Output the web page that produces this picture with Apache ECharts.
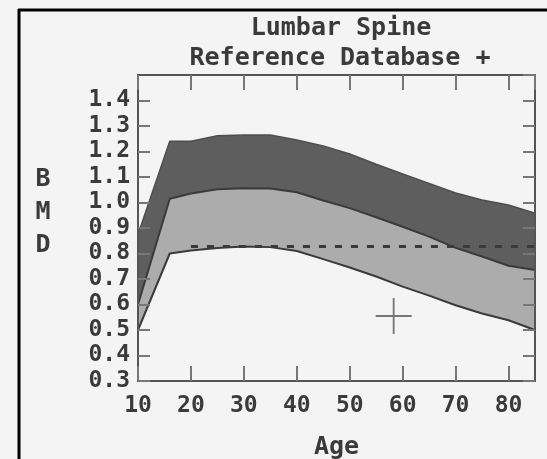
<!DOCTYPE html>
<html>
<head>
<meta charset="utf-8">
<script src="https://cdn.jsdelivr.net/npm/echarts@6/dist/echarts.min.js"></script>
<style>
html,body{margin:0;padding:0;background:#f4f4f4;}
#chart{width:547px;height:459px;}
</style>
</head>
<body>
<div id="chart"></div>
<script>
// Data
const ages   = [10, 16, 20, 25, 30, 35, 40, 45, 50, 55, 60, 65, 70, 75, 80, 85];
const upper  = [0.875, 1.24, 1.24, 1.262, 1.265, 1.265, 1.245, 1.222, 1.19, 1.15, 1.112, 1.075, 1.037, 1.01, 0.99, 0.958];
const middle = [0.60, 1.015, 1.035, 1.052, 1.056, 1.055, 1.04, 1.008, 0.978, 0.942, 0.905, 0.866, 0.822, 0.788, 0.752, 0.735];
const lower  = [0.50, 0.80, 0.812, 0.822, 0.827, 0.825, 0.81, 0.778, 0.745, 0.71, 0.67, 0.635, 0.597, 0.565, 0.538, 0.50];
const refAges = [20, 85];
const refValue = 0.827;
const patient = [58.3, 0.555];
const xTicks = {min: 10, max: 85, interval: 10};
const yTicks = {min: 0.3, max: 1.5, interval: 0.1};

const FONT = '"DejaVu Sans Mono", "Liberation Mono", monospace';
const TXT = '#3a3a3a';
const BG = '#f4f4f4';

const chart = echarts.init(document.getElementById('chart'), null, {renderer: 'canvas'});

const axisLine = {show: true, lineStyle: {color: '#555', width: 2}};
const xTick = {show: true, inside: true, length: 15, lineStyle: {color: '#777', width: 2}};
const yTick = {show: true, inside: true, length: 12, lineStyle: {color: '#777', width: 2}};
const labelStyle = {fontFamily: FONT, fontSize: 23, fontWeight: 'bold', color: TXT};

const option = {
  animation: false,
  backgroundColor: BG,
  grid: {left: 138, right: 12, top: 75, bottom: 78, containLabel: false, outerBoundsMode: 'none'},
  xAxis: [
    {
      type: 'value', position: 'bottom', min: xTicks.min, max: xTicks.max, interval: xTicks.interval,
      axisLine: axisLine, axisTick: xTick, splitLine: {show: false},
      axisLabel: Object.assign({margin: 14, showMaxLabel: false}, labelStyle),
      name: 'Age', nameLocation: 'middle', nameGap: 54,
      nameTextStyle: {fontFamily: FONT, fontSize: 25, fontWeight: 'bold', color: TXT},
      z: 10
    },
    {
      type: 'value', position: 'top', min: xTicks.min, max: xTicks.max, interval: xTicks.interval,
      axisLine: axisLine, axisTick: xTick, splitLine: {show: false},
      axisLabel: {show: false}, z: 10
    }
  ],
  yAxis: [
    {
      type: 'value', position: 'left', min: yTicks.min, max: yTicks.max, interval: yTicks.interval,
      axisLine: axisLine, axisTick: yTick, splitLine: {show: false},
      axisLabel: Object.assign({margin: 8, showMaxLabel: false, formatter: v => v.toFixed(1)}, labelStyle),
      z: 10
    },
    {
      type: 'value', position: 'right', min: yTicks.min, max: yTicks.max, interval: yTicks.interval,
      axisLine: axisLine, axisTick: yTick, splitLine: {show: false},
      axisLabel: {show: false}, z: 10
    }
  ],
  series: [
    {
      name: 'upper', type: 'line', symbol: 'none', z: 2,
      data: ages.map((a, i) => [a, upper[i]]),
      lineStyle: {color: '#4e4e4e', width: 1.5},
      areaStyle: {color: '#5e5e5e', opacity: 1, origin: 'start'}
    },
    {
      name: 'middle', type: 'line', symbol: 'none', z: 3,
      data: ages.map((a, i) => [a, middle[i]]),
      lineStyle: {color: '#3a3a3a', width: 2},
      areaStyle: {color: '#acacac', opacity: 1, origin: 'start'}
    },
    {
      name: 'lower', type: 'line', symbol: 'none', z: 4,
      data: ages.map((a, i) => [a, lower[i]]),
      lineStyle: {color: '#3a3a3a', width: 2},
      areaStyle: {color: BG, opacity: 1, origin: 'start'}
    },
    {
      name: 'reference', type: 'line', symbol: 'none', z: 5,
      data: refAges.map(a => [a, refValue]),
      lineStyle: {color: '#3a3a3a', width: 3, type: [7, 9]}
    },
    {
      name: 'patient', type: 'scatter', z: 6,
      symbol: 'path://M0,9.5H20V10.5H0Z M9.5,0H10.5V20H9.5Z',
      symbolSize: 36,
      itemStyle: {color: '#555'},
      data: [patient]
    }
  ],
  graphic: [
    {type: 'line', shape: {x1: 19, y1: 9, x2: 19, y2: 459}, style: {stroke: '#000', lineWidth: 3}, z: 100},
    {type: 'line', shape: {x1: 18, y1: 10, x2: 547, y2: 10}, style: {stroke: '#000', lineWidth: 3}, z: 100},
    {type: 'text', x: 341, y: 28, style: {text: 'Lumbar Spine', fontFamily: FONT, fontSize: 25, fontWeight: 'bold', fill: TXT, align: 'center', verticalAlign: 'middle'}},
    {type: 'text', x: 340, y: 58, style: {text: 'Reference Database +', fontFamily: FONT, fontSize: 25, fontWeight: 'bold', fill: TXT, align: 'center', verticalAlign: 'middle'}},
    {type: 'text', x: 43, y: 179, style: {text: 'B', fontFamily: FONT, fontSize: 25, fontWeight: 'bold', fill: TXT, align: 'center', verticalAlign: 'middle'}},
    {type: 'text', x: 43, y: 212, style: {text: 'M', fontFamily: FONT, fontSize: 25, fontWeight: 'bold', fill: TXT, align: 'center', verticalAlign: 'middle'}},
    {type: 'text', x: 43, y: 245, style: {text: 'D', fontFamily: FONT, fontSize: 25, fontWeight: 'bold', fill: TXT, align: 'center', verticalAlign: 'middle'}}
  ]
};
chart.setOption(option);
</script>
</body>
</html>
